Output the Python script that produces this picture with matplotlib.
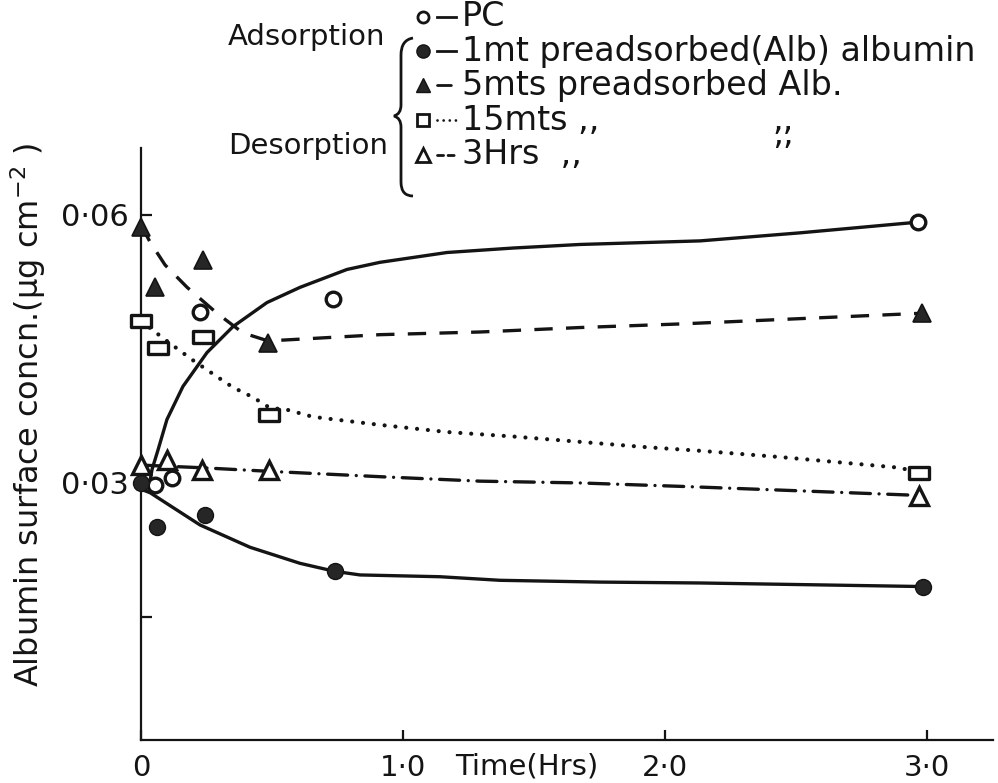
import matplotlib
matplotlib.use("Agg")
import matplotlib.pyplot as plt
from matplotlib.path import Path
from matplotlib.patches import PathPatch
from matplotlib.lines import Line2D

plt.rcParams['font.family'] = ['DejaVu Sans']

INK = '#141414'

# ---- measured points: time (h) vs albumin surface concentration (µg cm^-2) ----
pc_t = [0.053, 0.118, 0.225, 0.733, 2.966]
pc_c = [0.0298, 0.0306, 0.0491, 0.0506, 0.0592]

alb1_t = [0.0, 0.061, 0.244, 0.740, 2.985]
alb1_c = [0.0300, 0.0251, 0.0264, 0.0201, 0.0184]

alb5_t = [0.0, 0.053, 0.237, 0.485, 2.980]
alb5_c = [0.0587, 0.0519, 0.0550, 0.0457, 0.0490]

alb15_t = [0.0, 0.065, 0.237, 0.490, 2.970]
alb15_c = [0.0481, 0.0451, 0.0463, 0.0376, 0.0311]

alb3h_t = [0.0, 0.100, 0.233, 0.490, 2.970]
alb3h_c = [0.0320, 0.0326, 0.0315, 0.0315, 0.0285]

# ---- hand-fitted trend curves ----
pc_fit_t = [0.031, 0.042, 0.065, 0.099, 0.160, 0.252, 0.351, 0.481, 0.607,
            0.786, 0.912, 1.168, 1.420, 1.676, 2.134, 2.515, 2.966]
pc_fit_c = [0.0296, 0.0315, 0.0337, 0.0371, 0.0408, 0.0446, 0.0475, 0.0502,
            0.0519, 0.0539, 0.0547, 0.0558, 0.0563, 0.0567, 0.0571, 0.0580, 0.0592]

alb1_fit_t = [0.0, 0.035, 0.225, 0.416, 0.607, 0.740, 0.836, 1.141, 1.370,
              1.752, 2.134, 2.985]
alb1_fit_c = [0.0293, 0.0289, 0.0253, 0.0228, 0.0210, 0.0201, 0.0197, 0.0195,
              0.0191, 0.0189, 0.0188, 0.0184]

alb5_fit_t = [0.0, 0.034, 0.092, 0.176, 0.290, 0.389, 0.485, 0.912, 1.294,
              1.676, 2.057, 2.981]
alb5_fit_c = [0.0589, 0.0570, 0.0544, 0.0519, 0.0490, 0.0468, 0.0459, 0.0466,
              0.0469, 0.0474, 0.0478, 0.0490]

alb15_fit_t = [0.0, 0.046, 0.080, 0.195, 0.290, 0.351, 0.427, 0.492, 0.557,
               0.656, 0.912, 1.168, 1.420, 1.676, 1.931, 2.134, 2.439, 2.897, 2.973]
alb15_fit_c = [0.0481, 0.0471, 0.0463, 0.0438, 0.0419, 0.0407, 0.0396, 0.0384,
               0.0382, 0.0374, 0.0365, 0.0357, 0.0352, 0.0346, 0.0340, 0.0336,
               0.0329, 0.0317, 0.0311]

alb3h_fit_t = [0.0, 0.233, 0.490, 0.912, 1.294, 1.676, 2.076, 2.439, 2.973]
alb3h_fit_c = [0.0320, 0.0317, 0.0313, 0.0307, 0.0302, 0.0300, 0.0296, 0.0292, 0.0286]

x_ticks = [0, 1, 2, 3]
x_tick_labels = ['0', '1·0', '2·0', '3·0']
y_ticks = [0.015, 0.03, 0.06]
y_tick_labels = ['', '0·03', '0·06']

# ---- figure ----
W, H = 998, 783
fig = plt.figure(figsize=(W / 100, H / 100), dpi=100, facecolor='white')


def fx(px):
    return px / W


def fy(py):
    return 1 - py / H


ax = fig.add_axes([fx(141), fy(740), (993 - 141) / W, (740 - 148) / H])
ax.set_facecolor('white')
ax.set_xlim(0, 3.252)
ax.set_ylim(0.00122, 0.0675)

for s in ('top', 'right'):
    ax.spines[s].set_visible(False)
for s in ('left', 'bottom'):
    ax.spines[s].set_linewidth(1.6)
    ax.spines[s].set_color(INK)

# wide rectangle used for the 15 min series
rect = Path([(-1, -0.55), (1, -0.55), (1, 0.55), (-1, 0.55), (-1, -0.55)],
            [Path.MOVETO, Path.LINETO, Path.LINETO, Path.LINETO, Path.CLOSEPOLY])

LW = 2.4
ax.plot(pc_fit_t, pc_fit_c, color=INK, lw=LW, solid_capstyle='round')
ax.plot(alb1_fit_t, alb1_fit_c, color=INK, lw=LW, solid_capstyle='round')
ax.plot(alb5_fit_t, alb5_fit_c, color=INK, lw=LW, linestyle=(0, (5.5, 4.0)))
ax.plot(alb15_fit_t, alb15_fit_c, color=INK, lw=3.0, linestyle=(0, (0.01, 2.6)),
        dash_capstyle='round')
ax.plot(alb3h_fit_t, alb3h_fit_c, color=INK, lw=LW,
        linestyle=(0, (6.0, 2.6, 0.01, 2.6)), dash_capstyle='round')

mk = dict(linestyle='none', clip_on=False, zorder=5)
ax.plot(pc_t, pc_c, marker='o', ms=10.5, mfc='white', mec=INK, mew=2.4, **mk)
ax.plot(alb1_t, alb1_c, marker='o', ms=11.5, mfc='#262626', mec=INK, mew=1.0, **mk)
ax.plot(alb5_t, alb5_c, marker='^', ms=13, mfc='#262626', mec=INK, mew=1.2, **mk)
ax.plot(alb15_t, alb15_c, marker=rect, ms=15, mfc='white', mec=INK, mew=2.4, **mk)
ax.plot(alb3h_t, alb3h_c, marker='^', ms=13, mfc='white', mec=INK, mew=2.4, **mk)

ax.set_xticks(x_ticks)
ax.set_xticklabels(x_tick_labels)
ax.set_yticks(y_ticks)
ax.set_yticklabels(y_tick_labels)
ax.tick_params(axis='x', direction='in', length=7, width=1.6, colors=INK,
               labelsize=21, pad=10)
ax.tick_params(axis='y', direction='in', length=8, width=1.6, colors=INK,
               labelsize=22, pad=9)

fig.text(fx(455), fy(766), 'Time(Hrs)', fontsize=21, color=INK,
         ha='left', va='center')

ax.set_ylabel('Albumin surface concn.(µg cm$^{-2}$ )', fontsize=23, color=INK)
ax.yaxis.set_label_coords(-(141 - 48) / (993 - 141), 0.5 + (444 - 415) / 592)

# ---- hand-lettered key ----
TXT = dict(fontsize=24, color=INK, va='center', ha='left')
fig.text(fx(228), fy(37), 'Adsorption', fontsize=21, color=INK, va='center', ha='left')
fig.text(fx(228), fy(146), 'Desorption', fontsize=21, color=INK, va='center', ha='left')

rows_y = [17, 51, 85, 120, 155]
row_labels = ['PC', '1mt preadsorbed(Alb) albumin', '5mts preadsorbed Alb.',
              '15mts ,,', '3Hrs  ,,']
for yy, lab in zip(rows_y, row_labels):
    fig.text(fx(462), fy(yy), lab, **TXT)
fig.text(fx(772), fy(120), ',,', **TXT)
fig.text(fx(772), fy(155), '’’', **TXT)

key_styles = [
    dict(marker='o', ms=8, mfc='white', mec=INK, mew=2.0, ls='-'),
    dict(marker='o', ms=9.5, mfc='#262626', mec=INK, mew=1.0, ls='-'),
    dict(marker='^', ms=10, mfc='#262626', mec=INK, mew=1.0, ls=(0, (5, 2, 0.01, 2))),
    dict(marker='s', ms=8.5, mfc='white', mec=INK, mew=2.0, ls=(0, (0.01, 2.2))),
    dict(marker='^', ms=10, mfc='white', mec=INK, mew=2.0, ls=(0, (2.2, 1.6))),
]
for yy, st in zip(rows_y, key_styles):
    ls = st.pop('ls')
    fig.add_artist(Line2D([fx(437), fx(456)], [fy(yy), fy(yy)], color=INK,
                          lw=2.0, linestyle=ls, dash_capstyle='round',
                          transform=fig.transFigure))
    fig.add_artist(Line2D([fx(423)], [fy(yy)], linestyle='none', color=INK,
                          transform=fig.transFigure, **st))

# brace grouping the key rows
bp = [(413, 38), (401, 40), (401, 55), (401, 105), (401, 114), (394, 116),
      (401, 118), (401, 127), (401, 182), (401, 196), (413, 196)]
codes = [Path.MOVETO, Path.CURVE3, Path.CURVE3, Path.LINETO, Path.CURVE3,
         Path.CURVE3, Path.CURVE3, Path.CURVE3, Path.LINETO, Path.CURVE3, Path.CURVE3]
brace = Path([(fx(x), fy(y)) for x, y in bp], codes)
fig.add_artist(PathPatch(brace, fill=False, lw=2.0, edgecolor=INK,
                         transform=fig.transFigure))

fig.savefig('out.png', dpi=100, facecolor='white')
